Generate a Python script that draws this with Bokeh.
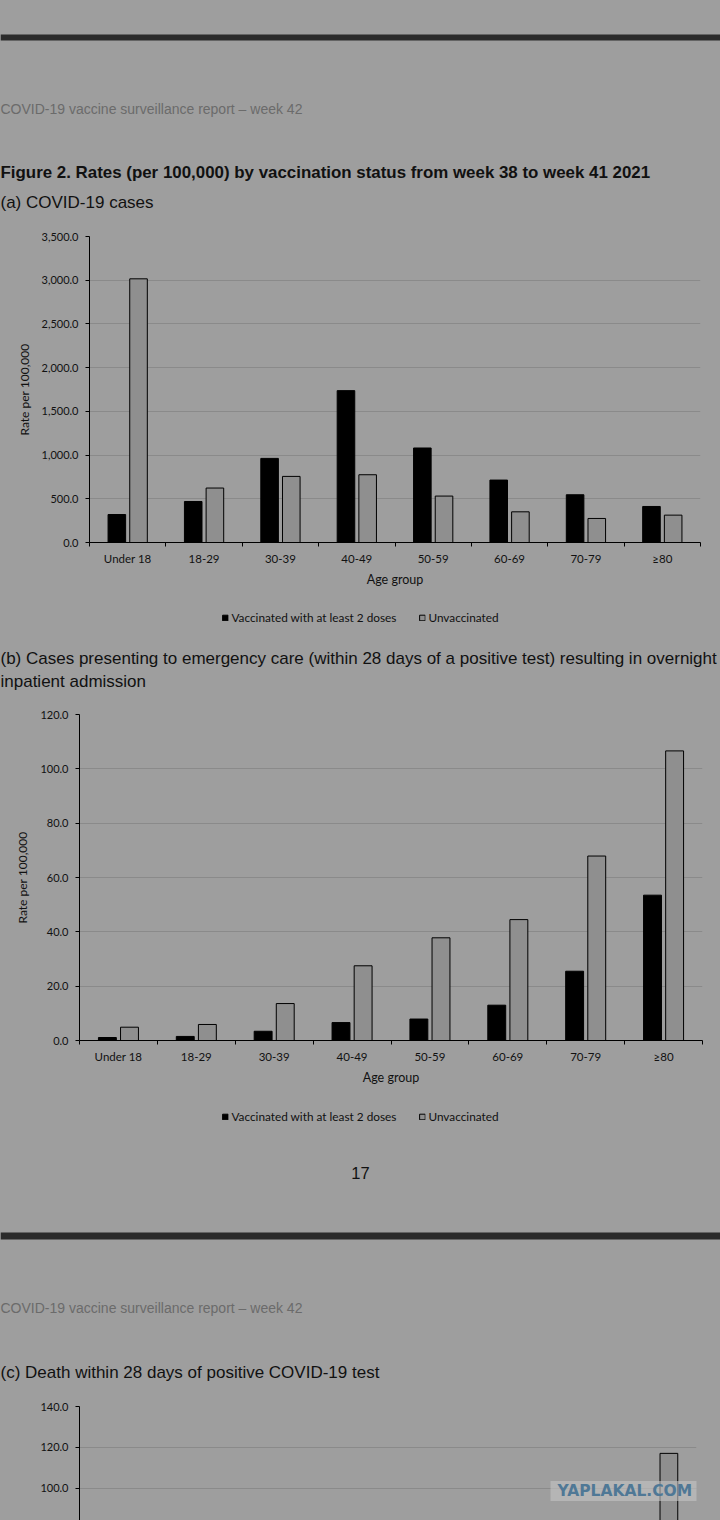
from math import pi

from bokeh.plotting import figure
from bokeh.models import (Range1d, FactorRange, LinearAxis, FixedTicker, SingleIntervalTicker,
                          NumeralTickFormatter, Label, BoxAnnotation, Legend, LegendItem,
                          ColumnDataSource)
from bokeh.transform import dodge
from bokeh.embed import file_html
from bokeh.resources import INLINE

# data (rates per 100,000)
ages = ["Under 18", "18-29", "30-39", "40-49", "50-59", "60-69", "70-79", "\u226580"]

cases_vacc = [320, 469, 962, 1737, 1081, 714, 546, 412]
cases_unvacc = [3016, 623, 756, 775, 531, 351, 275, 313]

adm_vacc = [1.1, 1.5, 3.4, 6.6, 7.9, 13.0, 25.5, 53.5]
adm_unvacc = [4.9, 5.9, 13.6, 27.5, 37.8, 44.5, 67.9, 106.6]

# (c) is cut off by the page bottom, only the top of the >=80 unvaccinated bar shows
death_vacc = [0.0, 0.1, 0.2, 0.8, 2.5, 8.5, 25.0, 79.0]
death_unvacc = [0.0, 0.3, 1.3, 4.4, 14.0, 32.0, 70.0, 117.1]

legend_labels = ["Vaccinated with at least 2 doses", "Unvaccinated"]

BG = "#9e9e9e"
BAND = "#2b2b2b"
INK = "#111111"
HEAD = "#6b6b6b"
UNVAC = "#8f8f8f"
GRID = "#8a8a8a"
PAGE_FONT = "Liberation Sans"
CHART_FONT = "Lato"
W = 720
NAN = float("nan")


def page_part(h):
    # a strip of the page, y runs downwards in pixels
    p = figure(width=W, height=h, x_range=Range1d(0, W), y_range=Range1d(h, 0),
               toolbar_location=None, output_backend="svg", min_border=0,
               x_axis_location=None, y_axis_location=None,
               background_fill_color=BG, border_fill_color=BG, outline_line_color=None,
               styles={"background-color": BG})
    p.grid.visible = False
    return p


def text(p, x, y, s, size, color=INK, bold=False, align="left"):
    p.add_layout(Label(x=x, y=y, text=s, text_font=PAGE_FONT, text_font_size=size,
                       text_color=color, text_font_style="bold" if bold else "normal",
                       text_align=align, text_baseline="middle"))


def band(p, y0, y1):
    p.add_layout(BoxAnnotation(left=0, right=W, top=y0, bottom=y1, fill_color=BAND,
                               fill_alpha=1, line_color=None))


def legend_strip(p, top):
    # the legend sits under the chart, its swatches come from two empty (NaN) bars
    r1 = p.vbar(x=[0], top=[NAN], bottom=[NAN], width=1, fill_color="black", line_color="black")
    r2 = p.vbar(x=[0], top=[NAN], bottom=[NAN], width=1, fill_color=UNVAC, line_color="black")
    lg = Legend(items=[LegendItem(label=legend_labels[0], renderers=[r1]),
                       LegendItem(label=legend_labels[1], renderers=[r2])],
                location="top", margin=top, orientation="horizontal",
                glyph_width=7, glyph_height=7, label_height=12, label_standoff=3,
                spacing=22, padding=0, border_line_color=None, background_fill_alpha=0,
                label_text_font=CHART_FONT, label_text_font_size="11.8px",
                label_text_color=INK)
    p.add_layout(lg)


def bar_chart(h, vac, unvac, y0, y1, step, top, bottom, left, right, xaxis=True, ylabel=True):
    src = ColumnDataSource(dict(age=ages, vac=vac, unvac=unvac))
    p = figure(width=W, height=h, x_range=FactorRange(factors=ages), y_range=Range1d(y0, y1),
               toolbar_location=None, output_backend="svg", x_axis_location=None,
               min_border_top=top, min_border_bottom=bottom,
               min_border_left=left, min_border_right=right,
               background_fill_color=BG, border_fill_color=BG, outline_line_color=None,
               styles={"background-color": BG})
    p.vbar(x=dodge("age", -0.142, range=p.x_range), top="vac", width=0.23, source=src,
           fill_color="black", line_color="black")
    p.vbar(x=dodge("age", 0.142, range=p.x_range), top="unvac", width=0.23, source=src,
           fill_color=UNVAC, line_color="black")

    tk = SingleIntervalTicker(interval=step, num_minor_ticks=0)
    ax = p.yaxis[0]
    ax.ticker = tk
    ax.formatter = NumeralTickFormatter(format="0,0.0")
    ax.axis_line_color = "black"
    ax.major_tick_line_color = "black"
    ax.major_tick_out = 4
    ax.major_tick_in = 0
    ax.minor_tick_line_color = None
    ax.major_label_text_font = CHART_FONT
    ax.major_label_text_font_size = "11px"
    ax.major_label_text_color = INK
    ax.major_label_standoff = 7
    if ylabel:
        ax.axis_label = "Rate per 100,000"
        ax.axis_label_text_font = CHART_FONT
        ax.axis_label_text_font_size = "12px"
        ax.axis_label_text_font_style = "normal"
        ax.axis_label_text_color = INK
        ax.axis_label_standoff = 7
    p.ygrid.ticker = tk
    p.ygrid.grid_line_color = GRID
    p.xgrid.visible = False

    if xaxis:
        # labels under the bar pairs, tick marks on the category boundaries
        xax = LinearAxis(ticker=FixedTicker(ticks=[i + 0.5 for i in range(len(ages))],
                                            minor_ticks=list(range(len(ages) + 1))),
                         major_label_overrides={i + 0.5: a for i, a in enumerate(ages)},
                         axis_label="Age group")
        xax.axis_line_color = "black"
        xax.major_tick_line_color = None
        xax.major_tick_out = 0
        xax.major_tick_in = 0
        xax.minor_tick_line_color = "black"
        xax.minor_tick_out = 4
        xax.minor_tick_in = 0
        xax.major_label_text_font = CHART_FONT
        xax.major_label_text_font_size = "11.5px"
        xax.major_label_text_color = INK
        xax.major_label_standoff = 5
        xax.axis_label_text_font = CHART_FONT
        xax.axis_label_text_font_size = "12.5px"
        xax.axis_label_text_font_style = "normal"
        xax.axis_label_text_color = INK
        xax.axis_label_standoff = 4
        p.add_layout(xax, "below")
    return p


# page top: header, figure title, (a) subtitle
top = page_part(226)
band(top, 34, 40)
text(top, 0, 108, "COVID-19 vaccine surveillance report \u2013 week 42", "14px", HEAD)
text(top, 0, 171.5, "Figure 2. Rates (per 100,000) by vaccination status from week 38 to week 41 2021",
     "16.9px", bold=True)
text(top, 0, 202, "(a) COVID-19 cases", "17px")

pa = bar_chart(370, cases_vacc, cases_unvacc, 0, 3500, 500, 10, 54, 89, 20)

mid = page_part(108)
legend_strip(mid, 14)
text(mid, 0, 62, "(b) Cases presenting to emergency care (within 28 days of a positive test) resulting in overnight",
     "17px")
text(mid, 0, 85, "inpatient admission", "17px")

pb = bar_chart(390, adm_vacc, adm_unvacc, 0, 120, 20, 10, 54, 79, 18)

brk = page_part(302)
legend_strip(brk, 15)
text(brk, 360, 78, "17", "16.5px", align="center")
band(brk, 138, 145)
text(brk, 0, 213, "COVID-19 vaccine surveillance report \u2013 week 42", "14px", HEAD)
text(brk, 0, 278, "(c) Death within 28 days of positive COVID-19 test", "17px")

# frame runs 114px tall at 2.045 px per unit below the 140 line
pc = bar_chart(124, death_vacc, death_unvacc, 84.3, 140, 20, 10, 0, 79, 24,
               xaxis=False, ylabel=False)
pc.add_layout(Label(x=-0.687, y=94.0, text="Rate per 100,000", angle=pi / 2,
                    text_align="right", text_baseline="middle", text_font=CHART_FONT,
                    text_font_size="12px", text_color=INK))
pc.add_layout(Label(x=6.107, y=98.7, text="YAPLAKAL.COM", text_align="left",
                    text_baseline="middle", text_font="DejaVu Sans", text_font_style="bold",
                    text_font_size="15.5px", text_color="#4f7896", padding=(7, 1),
                    background_fill_color="#c4c4c4", background_fill_alpha=0.6))

open("out.html", "w").write(file_html([top, pa, mid, pb, brk, pc], INLINE))
